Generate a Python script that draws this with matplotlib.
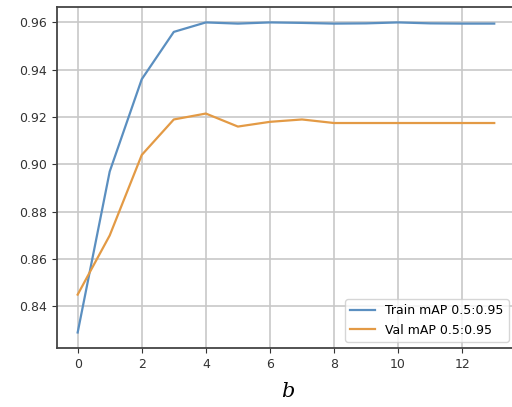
import matplotlib
matplotlib.use("Agg")
import matplotlib.pyplot as plt

epochs = list(range(14))
train_map = [0.829, 0.897, 0.936, 0.956, 0.960, 0.9595, 0.960, 0.9598, 0.9595, 0.9596, 0.960, 0.9596, 0.9595, 0.9595]
val_map = [0.845, 0.870, 0.904, 0.919, 0.9215, 0.916, 0.918, 0.919, 0.9175, 0.9175, 0.9175, 0.9175, 0.9175, 0.9175]
xticks = [0, 2, 4, 6, 8, 10, 12]
yticks = [0.84, 0.86, 0.88, 0.90, 0.92, 0.94, 0.96]

fig = plt.figure(figsize=(5.12, 4.07), dpi=100)
ax = fig.add_axes([0.111, 0.145, 0.895, 0.838])
ax.plot(epochs, train_map, color="#5b8fc0", lw=1.6, label="Train mAP 0.5:0.95")
ax.plot(epochs, val_map, color="#e39a45", lw=1.6, label="Val mAP 0.5:0.95")
ax.set_xticks(xticks)
ax.set_yticks(yticks)
ax.set_yticklabels([f"{v:.2f}" for v in yticks])
ax.grid(True, color="#c8c8c8", lw=1.2)
ax.tick_params(labelsize=9, colors="#333333")
for s in ax.spines.values():
    s.set_color("#444444")
    s.set_linewidth(1.3)
ax.legend(loc="lower right", fontsize=9, framealpha=0.8)
fig.text(0.563, 0.025, "b", fontsize=15, family="DejaVu Serif", style="italic", ha="center", va="baseline")
fig.savefig("out.png", dpi=100)
